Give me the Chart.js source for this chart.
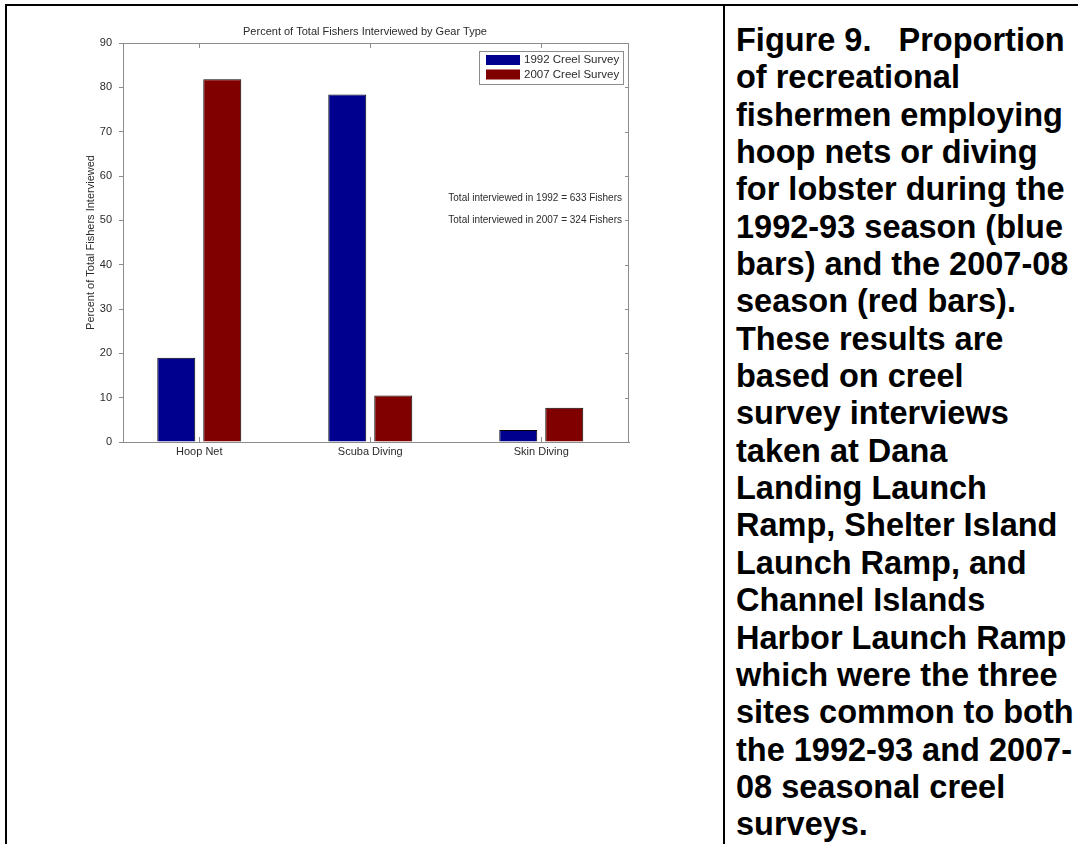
<!DOCTYPE html>
<html>
<head>
<meta charset="utf-8">
<title>Percent of Total Fishers Interviewed by Gear Type</title>
<script src="https://cdn.jsdelivr.net/npm/chart.js@4.4.1/dist/chart.umd.min.js"></script>
<style>
    html, body { margin: 0; padding: 0; background: #fff; }
    body { width: 1078px; height: 844px; position: relative; overflow: hidden; }
    #plotBox { position: absolute; left: 0; top: 0; width: 720px; height: 500px; }
    .rule { position: absolute; background: #000; }
    #caption {
        position: absolute; left: 736px; top: 22px;
        font: bold 32.5px "Liberation Sans", Arial, sans-serif;
        line-height: 37.35px; white-space: pre; color: #000;
    }
</style>
</head>
<body>
<div id="plotBox"><canvas id="gearChart" width="720" height="500"></canvas></div>
<div class="rule" style="left:5px;top:4px;width:1073px;height:2px"></div>
<div class="rule" style="left:5px;top:4px;width:2px;height:840px"></div>
<div class="rule" style="left:723px;top:4px;width:2px;height:840px"></div>
<div id="caption">Figure 9.   Proportion
of recreational
fishermen employing
hoop nets or diving
for lobster during the
1992-93 season (blue
bars) and the 2007-08
season (red bars).
These results are
based on creel
survey interviews
taken at Dana
Landing Launch
Ramp, Shelter Island
Launch Ramp, and
Channel Islands
Harbor Launch Ramp
which were the three
sites common to both
the 1992-93 and 2007-
08 seasonal creel
surveys.</div>

<script>
const chartTitle = 'Percent of Total Fishers Interviewed by Gear Type';
const gearTypes = ['Hoop Net', 'Scuba Diving', 'Skin Diving'];
const seriesNames = ['1992 Creel Survey', '2007 Creel Survey'];
const survey1992 = [19.0, 78.4, 2.7];
const survey2007 = [81.8, 10.5, 7.7];
const seriesColors = ['#00008f', '#800000'];
const totalsNotes = ['Total interviewed in 1992 = 633 Fishers', 'Total interviewed in 2007 = 324 Fishers'];
const noteLevels = [55, 50];

const fontFamily = '"Liberation Sans", Arial, Helvetica, sans-serif';
const textColor = '#2b2b2b';
const axisGray = '#8c8c8c';

// matlab style box: title, top/right edges, inward ticks, legend box and the two notes
const matlabFrame = {
    id: 'matlabFrame',
    afterDraw(chart) {
        const { ctx, chartArea: a, scales: { x, y } } = chart;
        ctx.save();
        ctx.strokeStyle = axisGray;
        ctx.lineWidth = 1;
        ctx.beginPath();
        ctx.moveTo(a.left, a.top + 0.5);
        ctx.lineTo(a.right, a.top + 0.5);
        ctx.moveTo(a.right - 0.5, a.top);
        ctx.lineTo(a.right - 0.5, a.bottom);
        y.ticks.forEach(t => {
            const py = Math.round(y.getPixelForValue(t.value)) + 0.5;
            ctx.moveTo(a.right, py);
            ctx.lineTo(a.right - 4, py);
        });
        x.ticks.forEach(t => {
            const px = Math.round(x.getPixelForValue(t.value)) + 0.5;
            ctx.moveTo(px, a.bottom);
            ctx.lineTo(px, a.bottom - 5);
            ctx.moveTo(px, a.top);
            ctx.lineTo(px, a.top + 5);
        });
        ctx.stroke();

        ctx.fillStyle = textColor;
        ctx.textBaseline = 'middle';
        ctx.textAlign = 'center';
        ctx.font = '11px ' + fontFamily;
        ctx.fillText(chartTitle, a.left + 242, a.top - 11);

        ctx.font = '10px ' + fontFamily;
        ctx.textAlign = 'right';
        totalsNotes.forEach((s, i) => ctx.fillText(s, a.right - 7, y.getPixelForValue(noteLevels[i])));

        // legend
        const bw = 144, bh = 33;
        const bx = a.right - 6 - bw, by = a.top + 8;
        ctx.fillStyle = '#fff';
        ctx.fillRect(bx, by, bw, bh);
        ctx.strokeRect(bx + 0.5, by + 0.5, bw, bh);
        ctx.textAlign = 'left';
        ctx.font = '11.5px ' + fontFamily;
        chart.data.datasets.forEach((ds, i) => {
            const cy = by + 9 + i * 14.5;
            ctx.fillStyle = ds.backgroundColor;
            ctx.fillRect(bx + 7, cy - 5, 34, 10);
            ctx.fillStyle = textColor;
            ctx.fillText(ds.label, bx + 45, cy);
        });
        ctx.restore();
    }
};

const toPoints = vals => vals.map((v, i) => ({ x: i + 1, y: v }));

new Chart(document.getElementById('gearChart'), {
    type: 'bar',
    data: {
        datasets: [
            { label: seriesNames[0], data: toPoints(survey1992), backgroundColor: seriesColors[0] },
            { label: seriesNames[1], data: toPoints(survey2007), backgroundColor: seriesColors[1] }
        ]
    },
    options: {
        responsive: false,
        devicePixelRatio: 1,
        animation: false,
        layout: { padding: { left: 0, top: 43, right: 91, bottom: 0 } },
        datasets: {
            bar: {
                categoryPercentage: 0.538,
                barPercentage: 0.826,
                borderColor: '#000',
                borderWidth: 1
            }
        },
        plugins: {
            legend: { display: false },
            tooltip: { enabled: false },
            title: { display: false }
        },
        scales: {
            x: {
                type: 'linear',
                min: 0.554,
                max: 3.513,
                offset: false,
                grid: { display: false, drawTicks: false },
                border: { color: axisGray, width: 1 },
                ticks: {
                    stepSize: 1,
                    includeBounds: false,
                    autoSkip: false,
                    maxRotation: 0,
                    padding: 3,
                    color: textColor,
                    font: { family: fontFamily, size: 11 },
                    callback: v => gearTypes[v - 1] || ''
                },
                afterFit: s => { s.height = 58; }
            },
            y: {
                min: 0,
                max: 90,
                grid: { drawOnChartArea: false, drawTicks: true, tickLength: 4, color: axisGray },
                border: { color: axisGray, width: 1 },
                ticks: {
                    stepSize: 10,
                    padding: 7,
                    color: textColor,
                    font: { family: fontFamily, size: 11 }
                },
                title: {
                    display: true,
                    text: 'Percent of Total Fishers Interviewed',
                    color: textColor,
                    font: { family: fontFamily, size: 11 },
                    padding: { top: 84, bottom: 0 }
                },
                afterFit: s => { s.width = 123; }
            }
        }
    },
    plugins: [matlabFrame]
});
</script>
</body>
</html>
